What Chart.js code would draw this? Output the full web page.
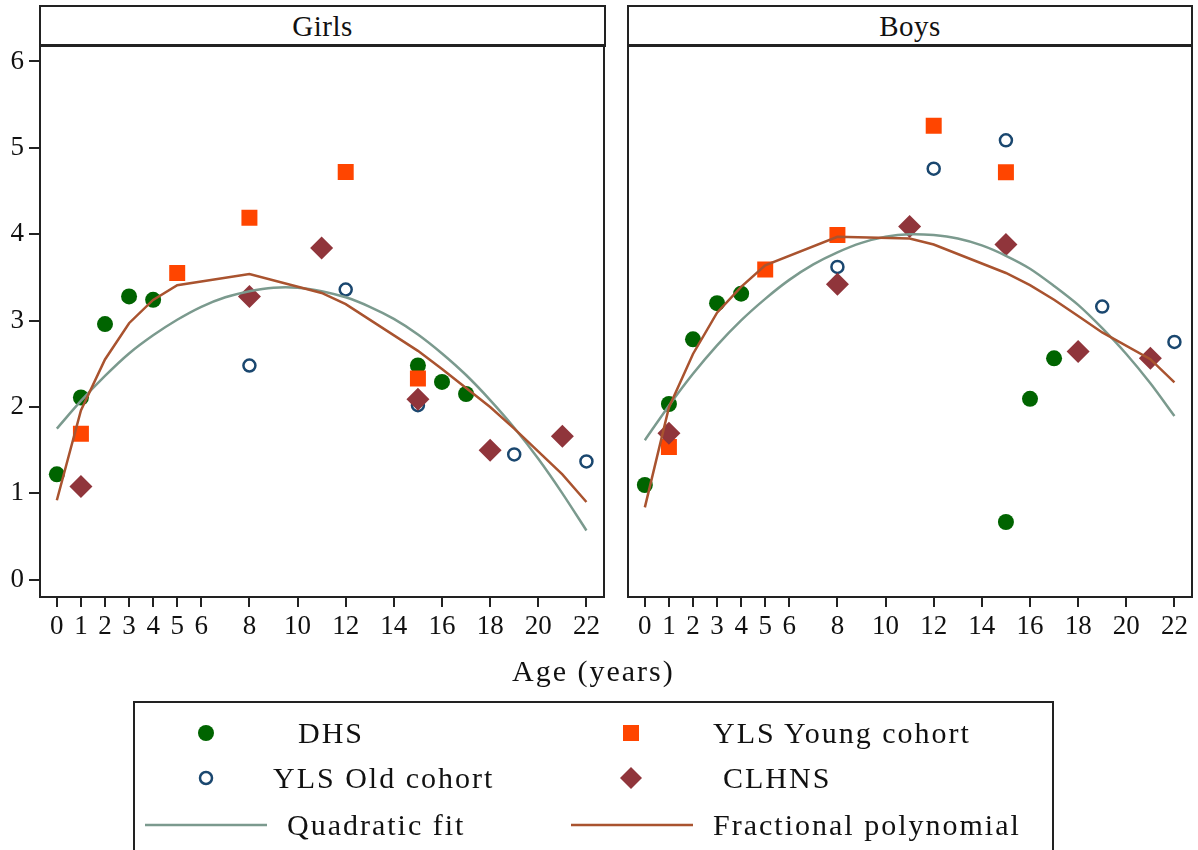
<!DOCTYPE html>
<html>
<head>
<meta charset="utf-8">
<script src="https://cdn.jsdelivr.net/npm/chart.js@4/dist/chart.umd.min.js"></script>
<style>
  html, body { margin: 0; padding: 0; background: #fff; overflow: hidden; }
  body { width: 1198px; height: 850px; position: relative; font-family: 'Liberation Serif', 'DejaVu Serif', serif; color: #111; }
  canvas { position: absolute; }
  .strip { position: absolute; top: 5px; height: 42px; box-sizing: border-box; border: 2px solid #222; border-bottom-width: 3px; background: #fff; z-index: 2; }
  .strip span { position: absolute; left: 0; right: 0; top: 4px; text-align: center; font-size: 29px; line-height: 30px; letter-spacing: 0.5px; }
  .txt { position: absolute; font-size: 30px; line-height: 30px; letter-spacing: 2px; white-space: nowrap; }
  #legend { position: absolute; left: 133px; top: 701px; width: 921px; height: 170px; box-sizing: border-box; border: 2px solid #222; }
  svg { position: absolute; overflow: visible; }
</style>
</head>
<body>

<div class="strip" style="left:39px; width:567px;"><span>Girls</span></div>
<div class="strip" style="left:627px; width:566px;"><span>Boys</span></div>

<canvas id="girlsChart" width="620" height="637" style="left:0; top:23px;"></canvas>
<canvas id="boysChart" width="600" height="626" style="left:612px; top:34px;"></canvas>

<div class="txt" style="left:512px; top:656px;">Age (years)</div>

<div id="legend"></div>
<svg width="1198" height="850" style="left:0; top:0;">
  <circle cx="206" cy="733" r="8" fill="#006400"/>
  <rect x="623" y="725" width="16" height="16" fill="#ff4500"/>
  <circle cx="206" cy="778" r="6" fill="none" stroke="#1a476f" stroke-width="2.5"/>
  <polygon points="631,767 642,778 631,789 620,778" fill="#90353b"/>
  <line x1="145" y1="825" x2="267" y2="825" stroke="#7b9a8e" stroke-width="2.5"/>
  <line x1="571" y1="825" x2="693" y2="825" stroke="#a9532f" stroke-width="2.5"/>
</svg>
<div class="txt" style="left:298px; top:718px;">DHS</div>
<div class="txt" style="left:713px; top:718px;">YLS Young cohort</div>
<div class="txt" style="left:273px; top:763px;">YLS Old cohort</div>
<div class="txt" style="left:723px; top:763px;">CLHNS</div>
<div class="txt" style="left:287px; top:810px;">Quadratic fit</div>
<div class="txt" style="left:713px; top:810px;">Fractional polynomial</div>

<script>
// ─── Data ───
const xTicks = [0, 1, 2, 3, 4, 5, 6, 8, 10, 12, 14, 16, 18, 20, 22];
const yTicks = [0, 1, 2, 3, 4, 5, 6];

const dhsAges = [0, 1, 2, 3, 4, 15, 16, 17];
const dhsGirls = [1.22, 2.11, 2.96, 3.28, 3.24, 2.48, 2.29, 2.15];
const dhsBoys = [1.10, 2.04, 2.79, 3.21, 3.32, 0.67, 2.10, 2.57];

const youngAges = [1, 5, 8, 12, 15];
const youngGirls = [1.69, 3.55, 4.19, 4.72, 2.33];
const youngBoys = [1.54, 3.60, 4.00, 5.27, 4.73];

const oldAges = [8, 12, 15, 19, 22];
const oldGirls = [2.48, 3.36, 2.02, 1.45, 1.37];
const oldBoys = [3.63, 4.77, 5.10, 3.17, 2.76];

const clhnsAges = [1, 8, 11, 15, 18, 21];
const clhnsGirls = [1.08, 3.28, 3.84, 2.09, 1.50, 1.66];
const clhnsBoys = [1.70, 3.43, 4.10, 3.89, 2.65, 2.57];

const quadAges = [0, 1, 2, 3, 4, 5, 6, 7, 8, 9, 10, 11, 12, 13, 14, 15, 16, 17, 18, 19, 20, 21, 22];
const quadGirls = [1.75, 2.07, 2.36, 2.62, 2.83, 3.01, 3.16, 3.27, 3.34, 3.38, 3.38, 3.34, 3.27, 3.16, 3.02, 2.84, 2.62, 2.37, 2.08, 1.76, 1.40, 1.00, 0.57];
const quadBoys = [1.62, 2.02, 2.39, 2.72, 3.01, 3.26, 3.48, 3.66, 3.80, 3.91, 3.98, 4.01, 4.00, 3.96, 3.88, 3.76, 3.61, 3.41, 3.19, 2.92, 2.62, 2.28, 1.90];

const fpAges = [0, 1, 2, 3, 4, 5, 8, 11, 12, 15, 16, 17, 18, 19, 21, 22];
const fpGirls = [0.92, 1.96, 2.55, 2.97, 3.24, 3.41, 3.54, 3.32, 3.19, 2.65, 2.44, 2.22, 2.00, 1.75, 1.22, 0.90];
const fpBoys = [0.84, 2.00, 2.62, 3.10, 3.40, 3.65, 3.98, 3.96, 3.89, 3.56, 3.42, 3.25, 3.06, 2.87, 2.56, 2.29];

const pts = (xs, ys) => xs.map((x, i) => ({ x, y: ys[i] }));

// ─── plot frame ───
const framePlugin = {
    id: 'frame',
    afterDatasetsDraw(chart) {
        const { ctx, chartArea: a } = chart;
        ctx.save();
        ctx.strokeStyle = '#222';
        ctx.lineWidth = 2;
        ctx.strokeRect(a.left, a.top, a.right - a.left, a.bottom - a.top);
        ctx.restore();
    }
};

const tickFont = { family: "'Liberation Serif', serif", size: 27 };

function makePanel(id, d, showY, padding) {
    const yAxis = {
        display: showY,
        min: -0.2,
        max: 6.2,
        afterBuildTicks: axis => { axis.ticks = yTicks.map(v => ({ value: v })); },
        ticks: { padding: 5, color: '#111', font: tickFont },
        grid: { drawOnChartArea: false, tickLength: 11, color: '#222', lineWidth: 2 },
        border: { display: false }
    };
    if (showY) yAxis.afterFit = s => { s.width = 40; };

    new Chart(document.getElementById(id), {
        type: 'scatter',
        data: {
            datasets: [
                { label: 'Fractional polynomial', data: pts(fpAges, d.fp), showLine: true, borderColor: '#a9532f', borderWidth: 2.5, pointRadius: 0, tension: 0, order: 0 },
                { label: 'Quadratic fit', data: pts(quadAges, d.quad), showLine: true, borderColor: '#7b9a8e', borderWidth: 2.5, pointRadius: 0, tension: 0.3, order: 1 },
                { label: 'CLHNS', data: pts(clhnsAges, d.clhns), pointStyle: 'rectRot', pointRadius: 11.5, backgroundColor: '#90353b', borderWidth: 0, order: 2 },
                { label: 'YLS Old cohort', data: pts(oldAges, d.old), pointStyle: 'circle', pointRadius: 6, backgroundColor: 'rgba(0,0,0,0)', borderColor: '#1a476f', borderWidth: 2.5, order: 3 },
                { label: 'YLS Young cohort', data: pts(youngAges, d.young), pointStyle: 'rect', pointRadius: 11.3, backgroundColor: '#ff4500', borderWidth: 0, order: 4 },
                { label: 'DHS', data: pts(dhsAges, d.dhs), pointStyle: 'circle', pointRadius: 8, backgroundColor: '#006400', borderWidth: 0, order: 5 }
            ]
        },
        options: {
            responsive: false,
            devicePixelRatio: 1,
            animation: false,
            layout: { padding },
            plugins: { legend: { display: false }, tooltip: { enabled: false } },
            scales: {
                x: {
                    type: 'linear',
                    min: -0.7,
                    max: 22.73,
                    afterBuildTicks: axis => { axis.ticks = xTicks.map(v => ({ value: v })); },
                    afterFit: s => { s.height = 63; },
                    ticks: { autoSkip: false, maxRotation: 0, padding: 4, color: '#111', font: tickFont },
                    grid: { drawOnChartArea: false, tickLength: 10, color: '#222', lineWidth: 2 },
                    border: { display: false }
                },
                y: yAxis
            }
        },
        plugins: [framePlugin]
    });
}

makePanel('girlsChart', { dhs: dhsGirls, young: youngGirls, old: oldGirls, clhns: clhnsGirls, quad: quadGirls, fp: fpGirls }, true, { left: 0, right: 16, top: 5, bottom: 0 });
makePanel('boysChart', { dhs: dhsBoys, young: youngBoys, old: oldBoys, clhns: clhnsBoys, quad: quadBoys, fp: fpBoys }, false, { left: 16, right: 20, top: 5, bottom: 0 });
</script>
</body>
</html>
